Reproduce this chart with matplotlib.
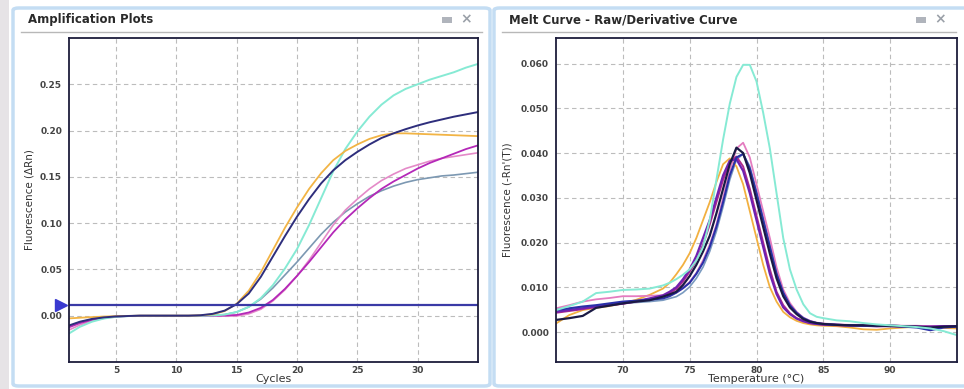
import numpy as np
import matplotlib
matplotlib.use("Agg")
import matplotlib.pyplot as plt
from matplotlib.patches import FancyBboxPatch, Rectangle
from matplotlib.lines import Line2D

# amplification plot data (delta Rn per cycle)
cycles = list(range(1, 36))
amp_orange = [-0.003, -0.0022, -0.0015, -0.0009, -0.0005, -0.0002, 0, 0, 0, 0, 0, 0.0004, 0.0015, 0.005, 0.013,
              0.027, 0.047, 0.071, 0.095, 0.117, 0.137, 0.154, 0.168, 0.178, 0.185, 0.191, 0.195, 0.197, 0.197,
              0.1965, 0.196, 0.1955, 0.195, 0.1945, 0.194]
amp_navy = [-0.011, -0.0065, -0.0035, -0.0018, -0.0008, -0.0003, 0, 0, 0, 0, 0, 0.0005, 0.002, 0.0055, 0.0125,
            0.024, 0.042, 0.064, 0.086, 0.107, 0.126, 0.143, 0.157, 0.168, 0.177, 0.185, 0.192, 0.197, 0.2015,
            0.2055, 0.209, 0.212, 0.215, 0.2175, 0.220]
amp_cyan = [-0.020, -0.012, -0.0065, -0.003, -0.0012, -0.0004, 0, 0, 0, 0, 0, 0, 0.0003, 0.0012, 0.004,
            0.0095, 0.019, 0.033, 0.051, 0.072, 0.098, 0.127, 0.156, 0.180, 0.199, 0.215, 0.228, 0.238, 0.245,
            0.250, 0.255, 0.259, 0.263, 0.268, 0.272]
amp_grey = [-0.012, -0.007, -0.0038, -0.0018, -0.0007, -0.0002, 0, 0, 0, 0, 0, 0, 0.0003, 0.0012, 0.004,
            0.0095, 0.018, 0.030, 0.044, 0.058, 0.073, 0.088, 0.101, 0.112, 0.121, 0.129, 0.135, 0.140, 0.144,
            0.147, 0.149, 0.151, 0.152, 0.1535, 0.155]
amp_pink = [-0.016, -0.010, -0.0055, -0.0028, -0.0012, -0.0004, 0, 0, 0, 0, 0, 0, 0, -0.0003, -0.0003,
            0.002, 0.007, 0.016, 0.028, 0.043, 0.060, 0.079, 0.098, 0.114, 0.126, 0.137, 0.146, 0.153, 0.159,
            0.163, 0.167, 0.170, 0.172, 0.174, 0.176]
amp_magenta = [-0.013, -0.008, -0.0045, -0.0022, -0.0009, -0.0003, 0, 0, 0, 0, 0, 0, 0, 0.0002, 0.0008,
               0.0035, 0.0085, 0.017, 0.029, 0.043, 0.058, 0.074, 0.090, 0.104, 0.116, 0.127, 0.137, 0.145, 0.152,
               0.159, 0.165, 0.170, 0.175, 0.180, 0.184]
threshold = 0.012

# melt curve data (derivative)
temps = [65, 66, 67, 68, 69, 70, 71, 72, 73,
         73.5, 74, 74.5, 75, 75.5, 76, 76.5, 77, 77.5, 78, 78.5, 79, 79.5, 80, 80.5, 81, 81.5, 82, 82.5,
         83, 83.5, 84, 84.5, 85,
         86, 87, 88, 89, 90, 91, 92, 93, 94, 95]
melt_cyan = [0.0049, 0.0058, 0.0068, 0.0087, 0.0090, 0.0094, 0.0095, 0.0097, 0.0104,
             0.0110, 0.0118, 0.0128, 0.0140, 0.0160, 0.0190, 0.0250, 0.0340, 0.0430, 0.0510, 0.0570, 0.0597,
             0.0597, 0.0560, 0.0490, 0.0410, 0.0310, 0.0210, 0.0140, 0.0095, 0.0062, 0.0042, 0.0034, 0.0031,
             0.0026, 0.0024, 0.0020, 0.0017, 0.0015, 0.0013, 0.0011, 0.0008, 0.0002, -0.0007]
melt_pink = [0.0053, 0.0060, 0.0068, 0.0073, 0.0076, 0.0080, 0.0080, 0.0081, 0.0082,
             0.0085, 0.0088, 0.0098, 0.0112, 0.0132, 0.0160, 0.0195, 0.0240, 0.0300, 0.0360, 0.0410, 0.0423,
             0.0390, 0.0330, 0.0270, 0.0210, 0.0145, 0.0095, 0.0065, 0.0045, 0.0032, 0.0025, 0.0021, 0.0019,
             0.0017, 0.0016, 0.0016, 0.0015, 0.0015, 0.0014, 0.0014, 0.0013, 0.0012, 0.0012]
melt_orange = [0.0019, 0.0038, 0.0049, 0.0054, 0.0058, 0.0064, 0.0072, 0.0083, 0.0097,
               0.0110, 0.0129, 0.0150, 0.0176, 0.0210, 0.0250, 0.0290, 0.0335, 0.0375, 0.0388, 0.0370, 0.0330,
               0.0270, 0.0210, 0.0150, 0.0100, 0.0068, 0.0045, 0.0033, 0.0025, 0.0020, 0.0017, 0.0015, 0.0014,
               0.0013, 0.0010, 0.0006, 0.0005, 0.0008, 0.0010, 0.0012, 0.0011, 0.0009, 0.0008]
melt_black = [0.0027, 0.0031, 0.0036, 0.0054, 0.0059, 0.0064, 0.0068, 0.0071, 0.0079,
              0.0084, 0.0090, 0.0105, 0.0125, 0.0150, 0.0180, 0.0215, 0.0265, 0.0320, 0.0375, 0.0412, 0.0400,
              0.0355, 0.0295, 0.0235, 0.0175, 0.0120, 0.0080, 0.0055, 0.0040, 0.0029, 0.0023, 0.0020, 0.0018,
              0.0016, 0.0015, 0.0015, 0.0014, 0.0014, 0.0013, 0.0012, 0.0010, 0.0012, 0.0013]
melt_blue = [0.0049, 0.0053, 0.0057, 0.0060, 0.0064, 0.0068, 0.0070, 0.0072, 0.0075,
             0.0080, 0.0088, 0.0098, 0.0110, 0.0130, 0.0155, 0.0190, 0.0235, 0.0290, 0.0350, 0.0390, 0.0398,
             0.0365, 0.0310, 0.0250, 0.0190, 0.0130, 0.0088, 0.0060, 0.0043, 0.0031, 0.0024, 0.0020, 0.0018,
             0.0016, 0.0015, 0.0014, 0.0014, 0.0013, 0.0012, 0.0010, 0.0004, 0.0010, 0.0012]
melt_grey = [0.0045, 0.0050, 0.0053, 0.0057, 0.0061, 0.0064, 0.0066, 0.0068, 0.0071,
             0.0075, 0.0079, 0.0088, 0.0101, 0.0120, 0.0145, 0.0180, 0.0225, 0.0280, 0.0340, 0.0385, 0.0398,
             0.0370, 0.0315, 0.0255, 0.0195, 0.0135, 0.0090, 0.0062, 0.0044, 0.0032, 0.0025, 0.0020, 0.0018,
             0.0016, 0.0015, 0.0015, 0.0014, 0.0014, 0.0013, 0.0013, 0.0012, 0.0012, 0.0011]
melt_purple = [0.0045, 0.0049, 0.0053, 0.0057, 0.0061, 0.0064, 0.0069, 0.0075, 0.0082,
               0.0090, 0.0100, 0.0118, 0.0140, 0.0170, 0.0210, 0.0250, 0.0300, 0.0350, 0.0383, 0.0386, 0.0360,
               0.0310, 0.0250, 0.0190, 0.0130, 0.0085, 0.0055, 0.0040, 0.0030, 0.0024, 0.0020, 0.0018, 0.0017,
               0.0016, 0.0015, 0.0014, 0.0013, 0.0014, 0.0013, 0.0012, 0.0012, 0.0013, 0.0013]
melt_magenta = [0.0043, 0.0047, 0.0051, 0.0056, 0.0060, 0.0063, 0.0068, 0.0074, 0.0080,
                0.0087, 0.0096, 0.0113, 0.0135, 0.0160, 0.0195, 0.0240, 0.0290, 0.0340, 0.0380, 0.0392, 0.0370,
                0.0320, 0.0260, 0.0200, 0.0140, 0.0090, 0.0060, 0.0042, 0.0031, 0.0025, 0.0020, 0.0018, 0.0016,
                0.0015, 0.0014, 0.0014, 0.0013, 0.0013, 0.0012, 0.0012, 0.0012, 0.0013, 0.0013]

amp_xticks = [5, 10, 15, 20, 25, 30]
amp_yticks = [0.00, 0.05, 0.10, 0.15, 0.20, 0.25]
melt_xticks = [70, 75, 80, 85, 90]
melt_yticks = [0.000, 0.010, 0.020, 0.030, 0.040, 0.050, 0.060]

W, H = 964, 389
fig = plt.figure(figsize=(W / 100, H / 100), dpi=100)
fig.patch.set_facecolor("white")


def fx(px):
    return px / W


def fy(py):
    return 1 - py / H


# thin grey strip on the far left of the screenshot
fig.patches.append(Rectangle((0, 0), fx(9), 1, transform=fig.transFigure,
                             facecolor="#e6e3e6", edgecolor="none", zorder=-2))

# panel frames and headers
for x0, x1, title in [(13, 490, "Amplification Plots"), (494, 975, "Melt Curve - Raw/Derivative Curve")]:
    fig.patches.append(FancyBboxPatch((fx(x0), fy(386)), fx(x1 - x0), (386 - 8) / H,
                                      boxstyle="round,pad=0,rounding_size=0.006",
                                      transform=fig.transFigure, facecolor="none",
                                      edgecolor="#c4ddf3", linewidth=2.5, zorder=-1))
    fig.lines.append(Line2D([fx(x0 + 8), fx(min(x1, 964) - 8)], [fy(32), fy(32)],
                            transform=fig.transFigure, color="#b8b8b8", linewidth=1.0))
    fig.text(fx(x0 + 15), fy(20), title, fontsize=8.5, fontweight="bold", color="#2a2a2a",
             va="center", ha="left")
    ix = min(x1, 964) - 48
    fig.patches.append(Rectangle((fx(ix), fy(23)), fx(10), 6 / H, transform=fig.transFigure,
                                 facecolor="#b0b4bc", edgecolor="none"))
    fig.text(fx(ix + 24), fy(19), "\u00d7", fontsize=10, color="#9aa0a8", va="center", ha="center",
             fontweight="bold")

tick_kw = dict(fontsize=6.5, color="#444444", fontweight="bold")
narrow = ["Liberation Sans Narrow", "DejaVu Sans"]


def style_axes(ax):
    ax.set_facecolor("none")
    for s in ax.spines.values():
        s.set_color("#1c1c3c")
        s.set_linewidth(1.3)
    ax.tick_params(axis="y", length=0, pad=5)
    ax.tick_params(axis="x", length=0, pad=3)
    ax.grid(True, color="#bcbcbc", linestyle=(0, (4, 3)), linewidth=0.8)
    ax.set_axisbelow(True)


# amplification plot
ax1 = fig.add_axes([fx(69), fy(362), fx(409), 324 / H])
style_axes(ax1)
ax1.plot(cycles, amp_grey, color="#7c98b2", lw=1.2)
ax1.plot(cycles, amp_pink, color="#e48ac8", lw=1.2)
ax1.plot(cycles, amp_magenta, color="#b428b8", lw=1.3)
ax1.plot(cycles, amp_cyan, color="#86ead4", lw=1.4)
ax1.plot(cycles, amp_orange, color="#f2b445", lw=1.3)
ax1.plot(cycles, amp_navy, color="#2e2e7c", lw=1.4)
ax1.axhline(threshold, color="#3a3aa6", lw=1.6)
ax1.plot([-0.02], [threshold], marker=">", markersize=9, color="#3a3ad0",
         transform=ax1.get_yaxis_transform(), clip_on=False)
ax1.set_xlim(1.1, 35)
ax1.set_ylim(-0.05, 0.30)
ax1.set_xticks(amp_xticks)
ax1.set_yticks(amp_yticks)
ax1.set_xticklabels([str(t) for t in amp_xticks], **tick_kw)
ax1.set_yticklabels(["%.2f" % t for t in amp_yticks], **tick_kw)
ax1.set_xlabel("Cycles", fontsize=8, color="#333333", labelpad=-1)
ax1.set_ylabel("Fluorescence (\u0394Rn)", fontsize=7.5, color="#333333", family=narrow, labelpad=4)

# melt curve
ax2 = fig.add_axes([fx(556), fy(362), fx(401), 324 / H])
style_axes(ax2)
ax2.plot(temps, melt_grey, color="#7a9ac0", lw=1.2)
ax2.plot(temps, melt_orange, color="#f2b040", lw=1.3)
ax2.plot(temps, melt_pink, color="#e47cc0", lw=1.3)
ax2.plot(temps, melt_magenta, color="#b02c8c", lw=1.4)
ax2.plot(temps, melt_purple, color="#7020b0", lw=1.6)
ax2.plot(temps, melt_blue, color="#2a30a8", lw=1.5)
ax2.plot(temps, melt_black, color="#1a1a44", lw=1.6)
ax2.plot(temps, melt_cyan, color="#86ead4", lw=1.4)
ax2.set_xlim(65, 95)
ax2.set_ylim(-0.0067, 0.0657)
ax2.set_xticks(melt_xticks)
ax2.set_yticks(melt_yticks)
ax2.set_xticklabels([str(t) for t in melt_xticks], **tick_kw)
ax2.set_yticklabels(["%.3f" % t for t in melt_yticks], **tick_kw)
ax2.set_xlabel("Temperature (\u00b0C)", fontsize=8, color="#333333", labelpad=-1)
ax2.set_ylabel("Fluorescence (-Rn'(T))", fontsize=7.5, color="#333333", family=narrow, labelpad=6)

fig.savefig("out.png", dpi=100, facecolor="white")
